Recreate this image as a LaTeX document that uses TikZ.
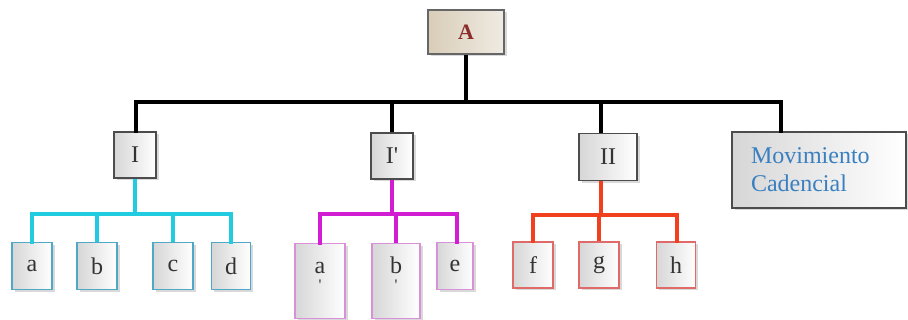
\documentclass[tikz,border=0pt]{standalone}
\usepackage{fontspec}
\setmainfont{Liberation Serif}
\usetikzlibrary{shadows}
\definecolor{cyanl}{HTML}{22CCE0}
\definecolor{cyanb}{HTML}{4FA8C8}
\definecolor{magl}{HTML}{D21ED2}
\definecolor{magb}{HTML}{D890D8}
\definecolor{redl}{HTML}{F0401E}
\definecolor{redb}{HTML}{E06A6A}
\definecolor{darkr}{HTML}{8B2D2D}
\definecolor{mcblue}{HTML}{3A7FC0}
\definecolor{beige}{HTML}{D8CDB8}
\newcommand{\primebelow}[1]{\ooalign{#1\cr\hidewidth\raisebox{-17pt}[0pt][0pt]{\fontsize{16}{16}\selectfont\textquotesingle}\hidewidth\cr}}
\tikzset{
  box/.style={draw=black!70, line width=1.2pt, left color=black!16, right color=white,
    drop shadow={opacity=0.3, shadow xshift=2.5pt, shadow yshift=-2.5pt},
    inner sep=0pt, text=black!80, font=\fontsize{24}{26}\selectfont, align=center},
  cbox/.style={box, draw=cyanb},
  mbox/.style={box, draw=magb},
  rbox/.style={box, draw=redb},
  tallbox/.style={mbox, minimum height=75pt, text height=17pt, text depth=31pt},
  blk/.style={line width=4pt, black},
  cyl/.style={line width=4pt, cyanl},
  mgl/.style={line width=4pt, magl},
  rdl/.style={line width=4pt, redl},
}
\begin{document}
\begin{tikzpicture}[x=1pt,y=-1pt]
\useasboundingbox (0,0) rectangle (908,320);
% top
\node[box, draw=black!60, left color=beige, right color=beige!40, minimum width=76pt, minimum height=44pt, text=darkr, font=\fontsize{22}{24}\selectfont\bfseries] (A) at (466,32) {A};
% level 1
\node[box, minimum width=42pt, minimum height=46pt] (I) at (135,155) {I};
\node[box, minimum width=42pt, minimum height=46pt] (Ip) at (392,156) {I\textquotesingle};
\node[box, minimum width=58pt, minimum height=47pt] (II) at (608,157) {II};
\node[box, minimum width=174pt, minimum height=76pt, text=mcblue, align=left, text width=136pt, font=\fontsize{24}{28}\selectfont] (MC) at (819,170) {Movimiento\\Cadencial};
% level 2 cyan
\node[cbox, minimum width=40pt, minimum height=47pt] (a) at (32,266) {a};
\node[cbox, minimum width=40pt, minimum height=47pt] (b) at (97,266) {b};
\node[cbox, minimum width=40pt, minimum height=47pt] (c) at (173,266) {c};
\node[cbox, minimum width=39pt, minimum height=47pt] (d) at (231,266) {d};
% magenta
\node[tallbox, minimum width=50pt] (ap) at (320,281) {\primebelow{a}};
\node[tallbox, minimum width=48pt] (bp) at (396,281) {\primebelow{b}};
\node[mbox, minimum width=36pt, minimum height=47pt] (e) at (455,266) {e};
% red
\node[rbox, minimum width=40pt, minimum height=46pt] (f) at (533,265) {f};
\node[rbox, minimum width=40pt, minimum height=46pt] (g) at (599,265) {g};
\node[rbox, minimum width=39pt, minimum height=46pt] (h) at (676,265) {h};
% coordinates
\coordinate (barL) at (136,102);
\coordinate (barR) at (781,102);
\coordinate (cyL) at (32,214);
\coordinate (cyR) at (231,214);
\coordinate (mgL) at (320,214);
\coordinate (mgR) at (457,214);
\coordinate (rdL) at (533,215);
\coordinate (rdR) at (677,215);
\coordinate (IIt) at (601,102);
\coordinate (IIb) at (601,215);
% black connectors
\draw[blk] (A.south) -- (A.south |- barL);
\draw[blk, line cap=rect] (I.north -| barL) -- (barL) -- (barR) -- (barR |- MC.north);
\draw[blk] (Ip.north) -- (Ip.north |- barL);
\draw[blk] (IIt |- II.north) -- (IIt);
% cyan
\draw[cyl] (I.south) -- (I.south |- cyL);
\draw[cyl, line cap=rect] (cyL |- a.north) -- (cyL) -- (cyR) -- (cyR |- d.north);
\draw[cyl] (b.north) -- (b.north |- cyL);
\draw[cyl] (c.north) -- (c.north |- cyL);
% magenta
\draw[mgl] (Ip.south) -- (Ip.south |- mgL);
\draw[mgl, line cap=rect] (mgL |- ap.north) -- (mgL) -- (mgR) -- (mgR |- e.north);
\draw[mgl] (bp.north) -- (bp.north |- mgL);
% red
\draw[rdl] (IIb |- II.south) -- (IIb);
\draw[rdl, line cap=rect] (rdL |- f.north) -- (rdL) -- (rdR) -- (rdR |- h.north);
\draw[rdl] (g.north) -- (g.north |- rdL);
\end{tikzpicture}
\end{document}
